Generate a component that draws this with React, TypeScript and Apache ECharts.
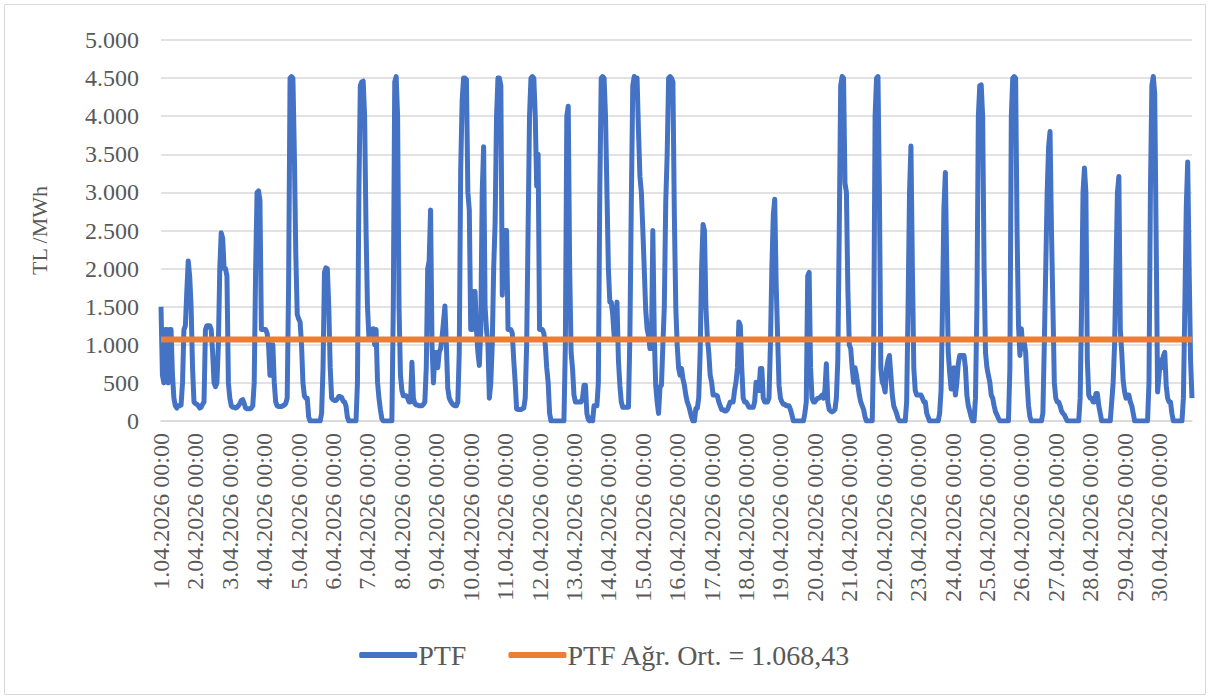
import React, { useEffect, useRef } from "react";
import * as echarts from "echarts";

// Hourly PTF (TL/MWh), April 2026, one array per day (hours 00..23)
const day01 = [1500, 600, 500, 1200, 1200, 500, 1200, 1200, 600, 300, 200, 170, 200, 200, 210, 500, 1200, 1250, 1700, 2100, 1900, 1500, 700, 250];
const day02 = [230, 220, 200, 170, 180, 220, 250, 1200, 1250, 1250, 1250, 1200, 900, 500, 450, 500, 1000, 2000, 2470, 2400, 2000, 2000, 1900, 500];
const day03 = [300, 200, 180, 180, 170, 180, 200, 230, 270, 280, 230, 170, 160, 160, 160, 170, 200, 500, 2000, 3000, 3020, 2900, 1200, 1200];
const day04 = [1200, 1200, 1150, 1000, 600, 1000, 1000, 500, 250, 200, 190, 190, 190, 200, 210, 230, 300, 1800, 4500, 4520, 4500, 3500, 2200, 1400];
const day05 = [1340, 1300, 1000, 500, 330, 300, 300, 50, 0, 0, 0, 0, 0, 0, 0, 0, 100, 700, 1950, 2010, 2000, 1500, 700, 300];
const day06 = [280, 270, 270, 290, 320, 320, 310, 260, 250, 200, 50, 0, 0, 0, 0, 0, 0, 500, 3000, 4400, 4450, 4460, 4000, 2500];
const day07 = [1500, 1100, 1100, 1200, 1210, 1000, 1200, 510, 300, 150, 30, 0, 0, 0, 0, 0, 0, 0, 1500, 4450, 4520, 4000, 1500, 600];
const day08 = [400, 330, 330, 330, 300, 250, 250, 770, 300, 230, 210, 210, 200, 200, 200, 220, 250, 700, 2000, 2100, 2770, 1000, 500, 900];
const day09 = [900, 700, 900, 950, 1100, 1300, 1510, 1000, 430, 300, 260, 230, 210, 200, 200, 250, 900, 3300, 4200, 4500, 4500, 4480, 3000, 2770];
const day10 = [1200, 1200, 1700, 1700, 1200, 900, 730, 1200, 3000, 3600, 1500, 1200, 1000, 300, 500, 1000, 2000, 2600, 4000, 4500, 4500, 4400, 1650, 2500];
const day11 = [2500, 2500, 1200, 1200, 1200, 1150, 800, 510, 160, 150, 150, 150, 160, 170, 300, 1000, 2500, 4000, 4500, 4520, 4500, 4000, 3080, 3500];
const day12 = [1200, 1200, 1200, 1150, 1000, 700, 510, 100, 0, 0, 0, 0, 0, 0, 0, 0, 0, 0, 1000, 4000, 4130, 2000, 900, 690];
const day13 = [340, 250, 250, 250, 250, 250, 300, 470, 470, 100, 20, 0, 40, 0, 200, 200, 200, 500, 3000, 4500, 4520, 4500, 4000, 3000];
const day14 = [2000, 1560, 1560, 1400, 1120, 1300, 1560, 800, 470, 250, 180, 180, 180, 180, 180, 1120, 2890, 4400, 4520, 4500, 4500, 3800, 3210, 3000];
const day15 = [2520, 2000, 1470, 1210, 1120, 950, 950, 2500, 1120, 470, 250, 100, 450, 470, 1000, 1500, 2870, 3500, 4500, 4520, 4500, 4450, 2700, 1500];
const day16 = [990, 690, 600, 690, 550, 470, 340, 250, 200, 130, 50, 0, 0, 165, 165, 300, 900, 2000, 2580, 2500, 1500, 1100, 900, 600];
const day17 = [510, 340, 340, 340, 330, 250, 200, 150, 150, 130, 130, 150, 200, 250, 250, 250, 400, 510, 700, 1300, 1250, 700, 300, 250];
const day18 = [250, 220, 180, 180, 180, 180, 250, 510, 400, 400, 690, 690, 300, 250, 250, 250, 300, 1000, 2000, 2700, 2910, 1800, 1120, 470];
const day19 = [300, 250, 220, 220, 200, 200, 200, 150, 80, 0, 0, 0, 0, 0, 0, 0, 0, 100, 250, 1900, 1950, 700, 300, 250];
const day20 = [250, 280, 300, 300, 320, 340, 300, 400, 750, 250, 150, 130, 120, 130, 150, 300, 800, 2500, 4400, 4520, 4500, 3120, 3000, 1730];
const day21 = [1000, 950, 700, 510, 700, 600, 470, 340, 250, 200, 150, 50, 0, 0, 0, 0, 0, 1000, 4000, 4500, 4520, 3000, 700, 510];
const day22 = [470, 380, 690, 800, 860, 600, 340, 200, 150, 100, 30, 0, 0, 0, 0, 0, 250, 1500, 3000, 3610, 2000, 690, 400, 340];
const day23 = [340, 340, 340, 300, 250, 250, 100, 50, 0, 0, 0, 0, 0, 0, 0, 100, 400, 1500, 2800, 3260, 2000, 900, 640, 420];
const day24 = [420, 700, 340, 500, 750, 860, 860, 860, 860, 700, 340, 200, 130, 50, 0, 0, 300, 1500, 4000, 4400, 4410, 4000, 2000, 900];
const day25 = [700, 600, 510, 340, 300, 200, 120, 80, 35, 0, 0, 0, 0, 0, 0, 0, 690, 4000, 4500, 4520, 4500, 2500, 1250, 860];
const day26 = [1210, 950, 1030, 900, 500, 200, 50, 0, 0, 0, 0, 0, 0, 0, 0, 100, 1000, 2000, 3000, 3600, 3800, 2500, 1500, 500];
const day27 = [300, 250, 250, 200, 130, 100, 80, 40, 0, 0, 0, 0, 0, 0, 0, 0, 0, 300, 1500, 3000, 3320, 3000, 800, 340];
const day28 = [300, 300, 250, 250, 360, 360, 200, 100, 0, 0, 0, 0, 0, 0, 0, 250, 500, 1000, 2000, 3000, 3210, 1200, 900, 530];
const day29 = [380, 300, 340, 340, 250, 200, 100, 0, 0, 0, 0, 0, 0, 0, 0, 0, 0, 500, 3000, 4400, 4520, 4300, 2400, 380];
const day30 = [600, 800, 700, 850, 900, 470, 300, 250, 250, 100, 0, 0, 0, 0, 0, 0, 0, 300, 1500, 2800, 3400, 2000, 800, 300];

const days = [day01, day02, day03, day04, day05, day06, day07, day08, day09, day10, day11, day12, day13, day14, day15,
  day16, day17, day18, day19, day20, day21, day22, day23, day24, day25, day26, day27, day28, day29, day30];

const ptf: number[] = days.flat();
const weightedAverage = 1068.43;
const categories: string[] = [];
days.forEach((_, d) => {
  for (let h = 0; h < 24; h++) {
    categories.push(`${d + 1}.04.2026 ${String(h).padStart(2, "0")}:00`);
  }
});
const avgLine = categories.map(() => weightedAverage);

const seriesNames = ["PTF", "PTF Ağr. Ort. = 1.068,43"];
const yAxisName = "TL /MWh";

const FONT = "'Liberation Serif', 'Times New Roman', serif";
const TEXT = "#595959";

function fmt(v: number) {
  return String(v).replace(/\B(?=(\d{3})+(?!\d))/g, ".");
}

export default function App() {
  const ref = useRef<HTMLDivElement>(null);
  useEffect(() => {
    if (!ref.current) return;
    const chart = echarts.init(ref.current, undefined, { renderer: "svg" });
    chart.setOption({
      animation: false,
      backgroundColor: "#ffffff",
      textStyle: { fontFamily: FONT },
      graphic: [
        {
          type: "rect",
          shape: { x: 4.5, y: 4.5, width: 1201, height: 690 },
          style: { fill: "none", stroke: "#d9d9d9", lineWidth: 1 },
          silent: true,
        },
      ],
      grid: { left: 161, right: 18, top: 40, bottom: 277, outerBoundsMode: "none" },
      legend: {
        bottom: 24,
        left: "center",
        itemWidth: 58,
        itemHeight: 6,
        itemGap: 42,
        icon: "roundRect",
        textStyle: { fontFamily: FONT, fontSize: 28, color: TEXT, padding: [0, 0, 0, -4] },
        data: seriesNames,
      },
      xAxis: {
        type: "category",
        data: categories,
        boundaryGap: false,
        axisLine: { show: true, lineStyle: { color: "#d9d9d9", width: 1.5 } },
        axisTick: { show: false },
        axisLabel: {
          interval: (index: number) => index % 24 === 0,
          rotate: 90,
          margin: 12,
          fontFamily: FONT,
          fontSize: 24,
          color: TEXT,
          formatter: (v: string) => v,
        },
        splitLine: { show: false },
      },
      yAxis: {
        type: "value",
        min: 0,
        max: 5000,
        interval: 500,
        name: yAxisName,
        nameLocation: "middle",
        nameRotate: 90,
        nameGap: 111,
        nameTextStyle: { fontFamily: FONT, fontSize: 22, color: TEXT },
        axisLine: { show: false },
        axisTick: { show: false },
        axisLabel: {
          margin: 22,
          fontFamily: FONT,
          fontSize: 24,
          color: TEXT,
          formatter: (v: number) => fmt(v),
        },
        splitLine: { lineStyle: { color: "#d9d9d9", width: 1.5 } },
      },
      series: [
        {
          name: seriesNames[0],
          type: "line",
          data: ptf,
          showSymbol: false,
          symbol: "none",
          lineStyle: { color: "#4472C4", width: 5, join: "round" },
          itemStyle: { color: "#4472C4" },
          z: 2,
        },
        {
          name: seriesNames[1],
          type: "line",
          data: avgLine,
          showSymbol: false,
          symbol: "none",
          lineStyle: { color: "#ED7D31", width: 6 },
          itemStyle: { color: "#ED7D31" },
          z: 3,
        },
      ],
    });
    return () => chart.dispose();
  }, []);
  return (
    <div
      ref={ref}
      style={{ position: "absolute", left: 0, top: 0, width: 1210, height: 698, background: "#fff" }}
    />
  );
}
